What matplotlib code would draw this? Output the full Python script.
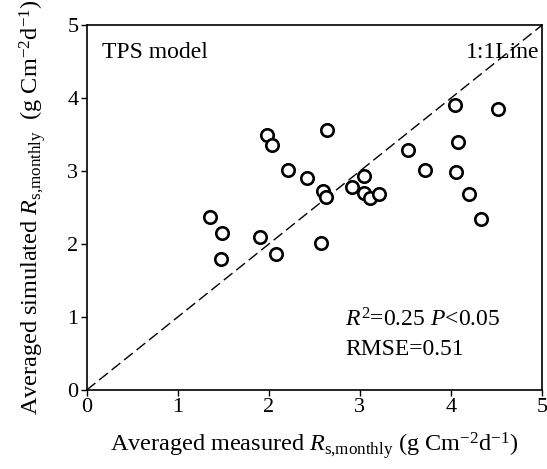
import matplotlib
matplotlib.use('Agg')
import matplotlib.pyplot as plt

# measured vs simulated monthly Rs
measured = [1.35, 1.49, 1.90, 1.48, 2.08, 4.04, 4.52, 1.98, 2.03, 2.64,
            4.08, 3.53, 2.21, 2.42, 3.71, 4.05, 3.04, 2.91, 2.59, 2.63,
            3.05, 3.11, 3.21, 4.20, 4.33, 2.57]
simulated = [2.37, 2.15, 2.10, 1.79, 1.86, 3.90, 3.85, 3.49, 3.36, 3.56,
             3.40, 3.29, 3.02, 2.91, 3.02, 2.99, 2.93, 2.78, 2.73, 2.64,
             2.70, 2.63, 2.69, 2.68, 2.34, 2.01]
ticks = [0, 1, 2, 3, 4, 5]

plt.rcParams['font.family'] = 'Liberation Serif'
plt.rcParams['mathtext.fontset'] = 'custom'
plt.rcParams['mathtext.rm'] = 'Liberation Serif'
plt.rcParams['mathtext.it'] = 'Liberation Serif:italic'

fig = plt.figure(figsize=(5.47, 4.69), dpi=100)
ax = fig.add_axes([0.1585, 0.1685, 0.8325, 0.778])

ax.plot([0, 5], [0, 5], color='black', lw=1, dashes=(8, 3.5))
ax.scatter(measured, simulated, s=80, facecolors='white', edgecolors='black',
           linewidths=1.9, zorder=3)

ax.set_xlim(0, 5)
ax.set_ylim(0, 5)
ax.set_xticks(ticks)
ax.set_yticks(ticks)
ax.tick_params(direction='out', length=4, width=1, labelsize=16, pad=2)
for s in ax.spines.values():
    s.set_linewidth(1.2)

ax.set_xlabel(r'Averaged measured $R_{\mathrm{s{,}monthly}}$ (g Cm$^{-2}$d$^{-1}$)',
              fontsize=17.5, labelpad=9)
ax.set_ylabel(r'Averaged simulated $R_{\mathrm{s{,}monthly}}$  (g Cm$^{-2}$d$^{-1}$)',
              fontsize=17.5, labelpad=14)

ax.text(0.17, 4.62, 'TPS model', fontsize=17, va='center')
ax.text(4.97, 4.62, '1:1Line', fontsize=17, va='center', ha='right')
ax.text(2.84, 0.96, r'$R^2$=0.25 $P$<0.05', fontsize=17, va='center')
ax.text(2.84, 0.55, 'RMSE=0.51', fontsize=17, va='center')

plt.savefig('out.png', format='png')
